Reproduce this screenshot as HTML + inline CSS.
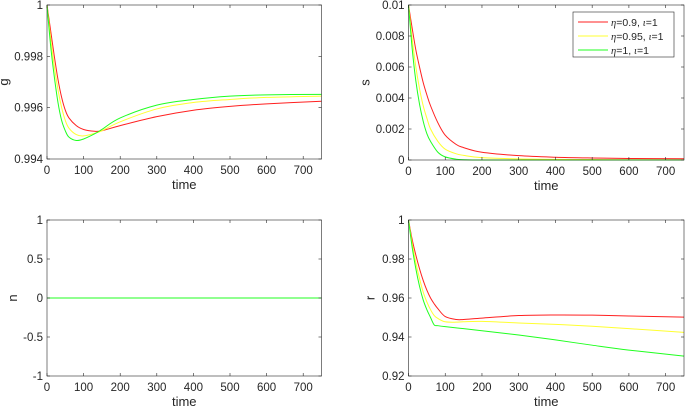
<!DOCTYPE html>
<html><head><meta charset="utf-8"><style>
body{margin:0;background:#fff;}
svg{display:block;font-family:"Liberation Sans",sans-serif;}
</style></head><body>
<svg id="fig" width="685" height="409"></svg>
<script>
const times=[0,10,20,30,40,50,60,80,100,130,150,200,300,400,500,600,750];
const gRed=[1,0.9990,0.9980,0.9971,0.9964,0.9959,0.9956,0.99530,0.99515,0.99508,0.99510,0.99530,0.99565,0.99590,0.99605,0.99615,0.99625];
const gYellow=[1,0.9987,0.9976,0.9967,0.9960,0.9955,0.99520,0.99495,0.99490,0.99500,0.99510,0.99545,0.99595,0.99620,0.99632,0.99640,0.99645];
const gGreen=[1,0.9984,0.9972,0.9962,0.9955,0.9951,0.99485,0.99472,0.99478,0.99498,0.99515,0.99560,0.99610,0.99632,0.99645,0.99650,0.99652];
const sRed=[0.01,0.0085,0.0071,0.0060,0.0050,0.0042,0.0035,0.0024,0.0016,0.0010,0.0008,0.0005,0.00028,0.00018,0.00013,0.0001,0.00008];
const sYellow=[0.01,0.0078,0.0060,0.0046,0.0035,0.0027,0.0020,0.0012,0.0007,0.0004,0.0003,0.00015,0.00007,0.00004,0.00003,0.00002,0.00001];
const sGreen=[0.01,0.0072,0.0051,0.0036,0.0025,0.0017,0.0012,0.0005,0.0002,0.00005,0.00002,0,0,0,0,0,0];
const nRed=[0,0,0,0,0,0,0,0,0,0,0,0,0,0,0,0,0];
const nYellow=[0,0,0,0,0,0,0,0,0,0,0,0,0,0,0,0,0];
const nGreen=[0,0,0,0,0,0,0,0,0,0,0,0,0,0,0,0,0];
const rTimes=[0,10,20,30,40,50,60,70,80,100,130,150,200,300,400,500,600,750];
const rRed=[1,0.990,0.982,0.975,0.969,0.964,0.960,0.957,0.9545,0.9505,0.9490,0.9490,0.9497,0.9510,0.9513,0.9512,0.9508,0.9502];
const rYellow=[1,0.988,0.978,0.970,0.963,0.958,0.954,0.951,0.9495,0.9478,0.9476,0.9478,0.9480,0.9472,0.9465,0.9455,0.9443,0.9424];
const rGreen=[1,0.986,0.975,0.966,0.959,0.954,0.950,0.9462,0.9458,0.9453,0.9447,0.9443,0.9432,0.9410,0.9385,0.9358,0.9333,0.9302];
const xTicks=[0,100,200,300,400,500,600,700];
const gTicks=[0.994,0.996,0.998,1];const gLabels=["0.994","0.996","0.998","1"];
const sTicks=[0,0.002,0.004,0.006,0.008,0.01];const sLabels=["0","0.002","0.004","0.006","0.008","0.01"];
const nTicks=[-1,-0.5,0,0.5,1];const nLabels=["-1","-0.5","0","0.5","1"];
const rTicks=[0.92,0.94,0.96,0.98,1];const rLabels=["0.92","0.94","0.96","0.98","1"];
const legendLabels=["=0.9, ","=0.95, ","=1, "];
const colors=["#ff2020","#ffff30","#20ff20"];
const NS="http://www.w3.org/2000/svg";
const svg=document.getElementById('fig');
function mk(tag,attrs,parent){const e=document.createElementNS(NS,tag);for(const k in attrs)e.setAttribute(k,attrs[k]);(parent||svg).appendChild(e);return e;}
function smooth(pts){
  let d='M'+pts[0][0].toFixed(2)+','+pts[0][1].toFixed(2);
  for(let i=0;i<pts.length-1;i++){
    const p0=pts[Math.max(0,i-1)],p1=pts[i],p2=pts[i+1],p3=pts[Math.min(pts.length-1,i+2)];
    const c1=[p1[0]+(p2[0]-p0[0])/6,p1[1]+(p2[1]-p0[1])/6];
    const c2=[p2[0]-(p3[0]-p1[0])/6,p2[1]-(p3[1]-p1[1])/6];
    d+=' C'+c1.map(v=>v.toFixed(2)).join(',')+' '+c2.map(v=>v.toFixed(2)).join(',')+' '+p2.map(v=>v.toFixed(2)).join(',');
  }
  return d;
}
function panel(name,L,R,T,B,ymin,ymax,ticks,labels,ylab,xs,series){
  const g=mk('g',{});
  
  
  const sx=v=>L+(v/750)*(R-L), sy=v=>B-(v-ymin)/(ymax-ymin)*(B-T);
  series.forEach((d,i)=>{
    const p=mk('path',{d:smooth(d.map((v,j)=>[sx(xs[j]),sy(v)])),fill:'none',stroke:colors[i],'stroke-width':1},g);
    
    
  });
  const box=mk('rect',{x:L,y:T,width:R-L,height:B-T,fill:'none',stroke:'#262626','stroke-width':0.6},g);
  
  
  xTicks.forEach(t=>{const x=sx(t);
    mk('line',{x1:x,x2:x,y1:B,y2:B-3,stroke:'#262626','stroke-width':0.6},g);
    mk('line',{x1:x,x2:x,y1:T,y2:T+3,stroke:'#262626','stroke-width':0.6},g);
    const tx=mk('text',{x:x,y:B+15,'text-anchor':'middle','font-size':11.5,fill:'#262626'},g);tx.textContent=t;
    
    
  });
  ticks.forEach((t,i)=>{const y=sy(t);
    mk('line',{x1:L,x2:L+3,y1:y,y2:y,stroke:'#262626','stroke-width':0.6},g);
    mk('line',{x1:R,x2:R-3,y1:y,y2:y,stroke:'#262626','stroke-width':0.6},g);
    const tx=mk('text',{x:L-4,y:y+4,'text-anchor':'end','font-size':11.5,fill:'#262626'},g);tx.textContent=labels[i];
    
    
  });
  const xl=mk('text',{x:(L+R)/2,y:B+30,'text-anchor':'middle','font-size':13,fill:'#262626'},g);xl.textContent='time';
  
  
  const yx=L-(ylab==='s'||ylab==='g'?39:(ylab==='n'?30:34));
  const yl=mk('text',{x:yx,y:(T+B)/2,'text-anchor':'middle','font-size':13,fill:'#262626',transform:`rotate(-90 ${yx} ${(T+B)/2})`},g);yl.textContent=ylab;
  
  
}
panel('g',47,321.5,5,159,0.994,1,gTicks,gLabels,'g',times,[gRed,gYellow,gGreen]);
panel('s',408.5,684,5,160,0,0.01,sTicks,sLabels,'s',times,[sRed,sYellow,sGreen]);
panel('n',47,321.5,220,376,-1,1,nTicks,nLabels,'n',times,[nRed,nYellow,nGreen]);
panel('r',408.5,684,220,376,0.92,1,rTicks,rLabels,'r',rTimes,[rRed,rYellow,rGreen]);
const lg=mk('g',{});


mk('rect',{x:573,y:12,width:101,height:45,fill:'#fff',stroke:'#262626','stroke-width':0.6},lg);
legendLabels.forEach((l,i)=>{const y=22+i*14;
  const e=mk('g',{},lg);
  
  
  mk('line',{x1:578,x2:608,y1:y,y2:y,stroke:colors[i],'stroke-width':1},e);
  const t=mk('text',{x:611,y:y+4,'font-size':10.5,fill:'#262626'},e);
  t.innerHTML='<tspan font-family="Liberation Serif" font-style="italic">η</tspan>'+l+'<tspan font-family="Liberation Serif" font-style="italic">ι</tspan>=1';
});
</script>
</body></html>
